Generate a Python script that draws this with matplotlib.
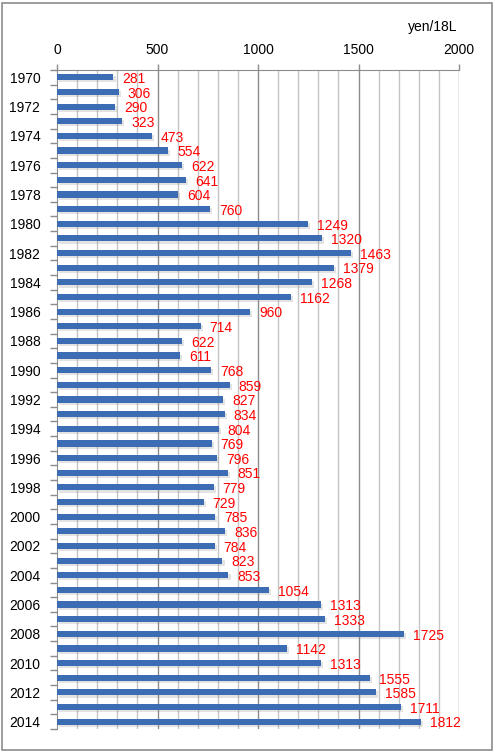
import numpy as np
import matplotlib
matplotlib.use("Agg")
import matplotlib.pyplot as plt
import matplotlib.patheffects as pe
from matplotlib.patches import Rectangle

# 年次データ (yen/18L)
years = list(range(1970, 2015))
prices = [281, 306, 290, 323, 473, 554, 622, 641, 604, 760,
          1249, 1320, 1463, 1379, 1268, 1162, 960, 714, 622, 611,
          768, 859, 827, 834, 804, 769, 796, 851, 779, 729,
          785, 836, 784, 823, 853, 1054, 1313, 1333, 1725, 1142,
          1313, 1555, 1585, 1711, 1812]
xticks = [0, 500, 1000, 1500, 2000]
unit = "yen/18L"

plt.rcParams['font.family'] = ['Liberation Sans', 'DejaVu Sans']

fig = plt.figure(figsize=(4.94, 7.51), dpi=100)
ax = fig.add_axes([57/494, 1-729/751, 402/494, 659/751])

y = np.arange(len(years))
ax.barh(y, prices, height=0.42, color='#3b6cb4', zorder=3,
        path_effects=[pe.SimplePatchShadow(offset=(1.5, -1.5), shadow_rgbFace='#909090', alpha=0.25), pe.Normal()])

for yi, v in zip(y, prices):
    ax.text(v + 45, yi + 0.12, str(v), color='red', fontsize=10, va='center', ha='left', zorder=4)

ax.set_xlim(0, 2000)
ax.set_ylim(len(years) - 0.5, -0.5)

# グリッド
for gx in range(100, 2001, 100):
    c = '#8c8c8c' if gx % 500 == 0 else '#c4c4c4'
    ax.axvline(gx, color=c, lw=1, zorder=1)

ax.xaxis.tick_top()
ax.set_xticks(xticks)
ax.set_xticklabels([str(t) for t in xticks], fontsize=10)
ax.tick_params(axis='x', length=4, width=1, color='#8c8c8c', pad=5)

ax.set_yticks(np.arange(len(years) + 1) - 0.5, minor=True)
ax.set_yticks(y[::2])
ax.set_yticklabels([str(yr) for yr in years[::2]], fontsize=10)
ax.tick_params(axis='y', which='major', length=0, pad=12)
ax.tick_params(axis='y', which='minor', length=5, width=1, color='#8c8c8c')

for s in ['right', 'bottom']:
    ax.spines[s].set_visible(False)
ax.spines['left'].set_color('#8c8c8c')
ax.spines['top'].set_color('#8c8c8c')

fig.text(433/494, 1-27/751, unit, fontsize=10, ha='center', va='center')

fig.patches.append(Rectangle((1.5/494, 1.5/751), 490/494, 747/751, transform=fig.transFigure,
                             fill=False, edgecolor='#8c8c8c', lw=1.2))

fig.savefig('out.png', dpi=100)
